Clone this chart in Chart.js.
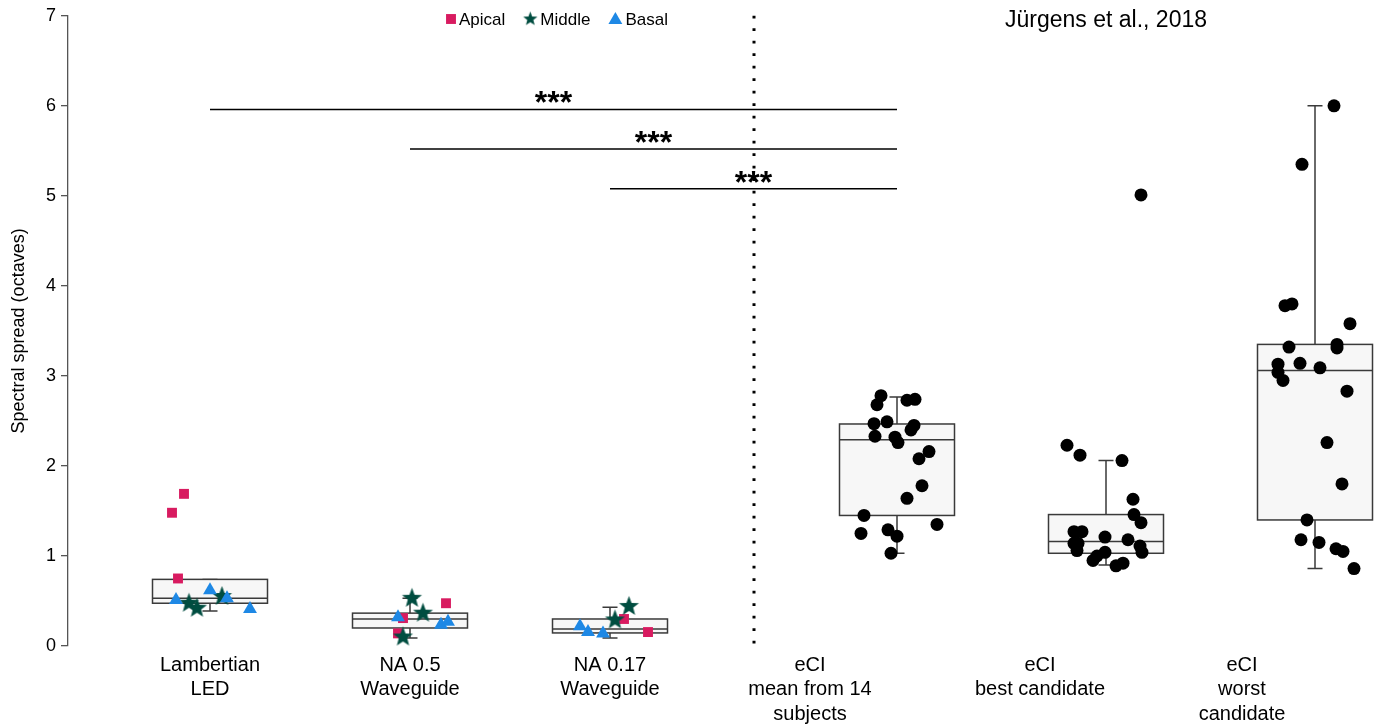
<!DOCTYPE html>
<html>
<head>
<meta charset="utf-8">
<script src="https://cdn.jsdelivr.net/npm/chart.js@4.4.1/dist/chart.umd.min.js"></script>
<style>
    html, body { margin: 0; padding: 0; background: #fff; }
</style>
</head>
<body>
<canvas id="spreadChart" width="1381" height="725"></canvas>
<script>
const xLabels = [
    ['Lambertian', 'LED'],
    ['NA 0.5', 'Waveguide'],
    ['NA 0.17', 'Waveguide'],
    ['eCI', 'mean from 14', 'subjects'],
    ['eCI', 'best candidate'],
    ['eCI', 'worst', 'candidate']
];
const xLabelPos = [1, 2, 3, 4.0, 5.15, 6.16];
const yTicks = [0, 1, 2, 3, 4, 5, 6, 7];

// box plots (one per group)
const boxCenter = [1, 2, 3, 4.435, 5.48, 6.525];
const boxMin    = [0.39, 0.09, 0.09, 1.03, 0.90, 0.86];
const boxQ1     = [0.475, 0.20, 0.145, 1.45, 1.03, 1.40];
const boxMedian = [0.53, 0.30, 0.19, 2.29, 1.16, 3.06];
const boxQ3     = [0.74, 0.365, 0.30, 2.466, 1.46, 3.35];
const boxMax    = [0.74, 0.53, 0.43, 2.765, 2.06, 6.0];

// cochlear positions (jittered x)
const apicalX = [0.87, 0.81, 0.84, 2.18, 1.965, 1.94, 3.07, 3.19];
const apicalY = [1.69, 1.48, 0.75, 0.475, 0.31, 0.14, 0.30, 0.155];
const middleX = [0.895, 0.935, 1.06, 2.01, 2.065, 1.965, 3.095, 3.025];
const middleY = [0.475, 0.42, 0.55, 0.53, 0.365, 0.10, 0.44, 0.29];
const basalX = [0.83, 1.0, 1.085, 1.2, 1.94, 2.155, 2.19, 2.85, 2.89, 2.965];
const basalY = [0.51, 0.62, 0.53, 0.41, 0.32, 0.235, 0.27, 0.22, 0.155, 0.14];

// eCI (Jürgens et al., 2018)
const meanX = [4.355, 4.335, 4.485, 4.525, 4.32, 4.385, 4.52, 4.505, 4.325, 4.425, 4.44, 4.595, 4.545, 4.56, 4.485, 4.27, 4.635, 4.255, 4.39, 4.435, 4.405];
const meanY = [2.78, 2.68, 2.73, 2.74, 2.47, 2.49, 2.45, 2.40, 2.33, 2.32, 2.26, 2.16, 2.08, 1.78, 1.64, 1.45, 1.35, 1.25, 1.29, 1.22, 1.03];
const bestX = [5.285, 5.35, 5.56, 5.615, 5.62, 5.655, 5.32, 5.36, 5.475, 5.59, 5.32, 5.34, 5.335, 5.65, 5.66, 5.475, 5.435, 5.415, 5.53, 5.565, 5.655];
const bestY = [2.23, 2.12, 2.06, 1.63, 1.46, 1.37, 1.27, 1.27, 1.21, 1.18, 1.14, 1.14, 1.06, 1.11, 1.04, 1.04, 1.00, 0.95, 0.89, 0.92, 5.01];
const worstX = [6.62, 6.46, 6.375, 6.41, 6.7, 6.395, 6.635, 6.635, 6.45, 6.34, 6.55, 6.34, 6.365, 6.685, 6.585, 6.66, 6.485, 6.455, 6.545, 6.63, 6.665, 6.72];
const worstY = [6.0, 5.35, 3.78, 3.80, 3.58, 3.32, 3.35, 3.31, 3.14, 3.13, 3.09, 3.04, 2.95, 2.83, 2.26, 1.80, 1.40, 1.18, 1.15, 1.08, 1.05, 0.86];

// significance bars
const sigFrom = [1, 2, 3];
const sigTo = [4.435, 4.435, 4.435];
const sigY = [5.96, 5.52, 5.08];
const sigText = ['***', '***', '***'];
const dividerX = 3.72;

const FONT = "'Liberation Sans', Arial, Helvetica, sans-serif";
const COL_APICAL = '#d81b60';
const COL_MIDDLE = '#004d40';
const COL_BASAL = '#1e88e5';
const BOX_LINE = '#3a3a3a';

function makeStar(r, color) {
    const c = document.createElement('canvas');
    const s = Math.ceil(r * 2 + 2);
    c.width = s;
    c.height = s;
    const g = c.getContext('2d');
    g.fillStyle = color;
    g.beginPath();
    for (let i = 0; i < 10; i++) {
        const rr = i % 2 ? r * 0.42 : r;
        const a = -Math.PI / 2 + i * Math.PI / 5;
        g.lineTo(s / 2 + rr * Math.cos(a), s / 2 + rr * Math.sin(a));
    }
    g.closePath();
    g.fill();
    return c;
}
const starBig = makeStar(10.5, COL_MIDDLE);
const starSmall = makeStar(7.5, COL_MIDDLE);

function pts(xs, ys) {
    return xs.map((x, i) => ({ x: x, y: ys[i] }));
}

const boxPlugin = {
    id: 'boxes',
    beforeDatasetsDraw(chart) {
        const { ctx } = chart;
        const x = chart.scales.x;
        const y = chart.scales.y;
        const half = 0.2875;
        const cap = 0.0375;
        ctx.save();
        ctx.strokeStyle = BOX_LINE;
        ctx.lineWidth = 1.5;

        // dotted divider
        ctx.save();
        ctx.strokeStyle = '#000';
        ctx.lineWidth = 3;
        ctx.setLineDash([2.6, 9.9]);
        ctx.beginPath();
        ctx.moveTo(x.getPixelForValue(dividerX), y.getPixelForValue(7));
        ctx.lineTo(x.getPixelForValue(dividerX), y.getPixelForValue(0));
        ctx.stroke();
        ctx.restore();

        boxCenter.forEach((c, i) => {
            const cx = x.getPixelForValue(c);
            const l = x.getPixelForValue(c - half);
            const r = x.getPixelForValue(c + half);
            const cl = x.getPixelForValue(c - cap);
            const cr = x.getPixelForValue(c + cap);
            const yMin = y.getPixelForValue(boxMin[i]);
            const yQ1 = y.getPixelForValue(boxQ1[i]);
            const yMed = y.getPixelForValue(boxMedian[i]);
            const yQ3 = y.getPixelForValue(boxQ3[i]);
            const yMax = y.getPixelForValue(boxMax[i]);

            ctx.beginPath();
            ctx.moveTo(cx, yMax); ctx.lineTo(cx, yQ3);
            ctx.moveTo(cx, yQ1); ctx.lineTo(cx, yMin);
            ctx.moveTo(cl, yMax); ctx.lineTo(cr, yMax);
            ctx.moveTo(cl, yMin); ctx.lineTo(cr, yMin);
            ctx.stroke();

            ctx.fillStyle = '#f7f7f7';
            ctx.fillRect(l, yQ3, r - l, yQ1 - yQ3);
            ctx.strokeRect(l, yQ3, r - l, yQ1 - yQ3);
            ctx.beginPath();
            ctx.moveTo(l, yMed); ctx.lineTo(r, yMed);
            ctx.stroke();
        });

        // significance bars
        ctx.strokeStyle = '#000';
        ctx.lineWidth = 1.5;
        ctx.fillStyle = '#000';
        ctx.font = 'bold 32px ' + FONT;
        ctx.textAlign = 'center';
        ctx.textBaseline = 'alphabetic';
        sigFrom.forEach((from, i) => {
            const a = x.getPixelForValue(from);
            const b = x.getPixelForValue(sigTo[i]);
            const py = y.getPixelForValue(sigY[i]);
            ctx.beginPath();
            ctx.moveTo(a, py); ctx.lineTo(b, py);
            ctx.stroke();
            ctx.fillText(sigText[i], (a + b) / 2, py + 4);
        });
        ctx.restore();
    },
    afterDraw(chart) {
        const { ctx } = chart;
        const x = chart.scales.x;
        ctx.save();
        ctx.fillStyle = '#000';
        ctx.font = '23px ' + FONT;
        ctx.textAlign = 'center';
        ctx.textBaseline = 'middle';
        ctx.fillText('Jürgens et al., 2018', x.getPixelForValue(5.48), 21);

        // legend
        const items = [
            { text: 'Apical', style: 'rect', radius: 7, color: COL_APICAL, w: 10 },
            { text: 'Middle', style: starSmall, radius: 7, color: COL_MIDDLE, w: 14 },
            { text: 'Basal', style: 'triangle', radius: 8, color: COL_BASAL, w: 14 }
        ];
        ctx.font = '17px ' + FONT;
        ctx.textAlign = 'left';
        let px = 446;
        const py = 19;
        items.forEach(it => {
            ctx.fillStyle = it.color;
            Chart.helpers.drawPoint(ctx, { pointStyle: it.style, radius: it.radius, rotation: 0, borderWidth: 0 }, px + it.w / 2, py + (it.style === 'triangle' ? 1 : 0));
            ctx.fillStyle = '#000';
            ctx.fillText(it.text, px + it.w + 3, py + 1);
            px += it.w + 3 + ctx.measureText(it.text).width + 18;
        });
        ctx.restore();
    }
};

const ctx = document.getElementById('spreadChart').getContext('2d');
new Chart(ctx, {
    type: 'scatter',
    data: {
        datasets: [
            {
                label: 'Basal',
                data: pts(basalX, basalY),
                pointStyle: 'triangle',
                pointRadius: 8,
                backgroundColor: COL_BASAL,
                borderWidth: 0,
                clip: false
            },
            {
                label: 'Middle',
                data: pts(middleX, middleY),
                pointStyle: starBig,
                pointRadius: 10,
                backgroundColor: COL_MIDDLE,
                borderWidth: 0,
                clip: false
            },
            {
                label: 'Apical',
                data: pts(apicalX, apicalY),
                pointStyle: 'rect',
                pointRadius: 7,
                backgroundColor: COL_APICAL,
                borderWidth: 0,
                clip: false
            },
            {
                label: 'eCI mean',
                data: pts(meanX, meanY),
                pointRadius: 6.5,
                backgroundColor: '#000',
                borderWidth: 0,
                clip: false
            },
            {
                label: 'eCI best',
                data: pts(bestX, bestY),
                pointRadius: 6.5,
                backgroundColor: '#000',
                borderWidth: 0,
                clip: false
            },
            {
                label: 'eCI worst',
                data: pts(worstX, worstY),
                pointRadius: 6.5,
                backgroundColor: '#000',
                borderWidth: 0,
                clip: false
            }
        ]
    },
    options: {
        responsive: false,
        animation: false,
        layout: {
            autoPadding: false,
            padding: { top: 13, right: 0, bottom: 0, left: 0 }
        },
        scales: {
            x: {
                type: 'linear',
                min: 0.29,
                max: 6.855,
                afterBuildTicks: (scale) => {
                    scale.ticks = xLabelPos.map(v => ({ value: v }));
                },
                afterFit: (scale) => {
                    scale.height = 79;
                },
                grid: { display: false },
                border: { display: false },
                ticks: {
                    autoSkip: false,
                    maxRotation: 0,
                    padding: -1,
                    color: '#000',
                    font: { family: FONT, size: 20, lineHeight: 1.23 },
                    callback: (value, index) => xLabels[index]
                }
            },
            y: {
                type: 'linear',
                min: 0,
                max: 7,
                afterBuildTicks: (scale) => {
                    scale.ticks = yTicks.map(v => ({ value: v }));
                },
                afterFit: (scale) => {
                    scale.width = 68;
                },
                grid: {
                    drawOnChartArea: false,
                    drawTicks: true,
                    tickLength: 7,
                    color: '#555',
                    lineWidth: 1.3
                },
                border: { display: true, color: '#555', width: 1.3 },
                ticks: {
                    padding: 5,
                    color: '#000',
                    font: { family: FONT, size: 18 }
                },
                title: {
                    display: true,
                    text: 'Spectral spread (octaves)',
                    color: '#000',
                    font: { family: FONT, size: 18 },
                    padding: { top: 8, bottom: 0 }
                }
            }
        },
        plugins: {
            legend: { display: false },
            tooltip: { enabled: false }
        }
    },
    plugins: [boxPlugin]
});
</script>
</body>
</html>
